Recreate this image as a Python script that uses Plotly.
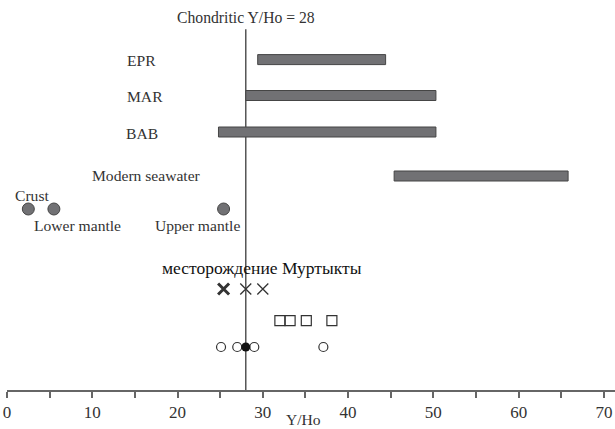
import plotly.graph_objects as go

# Y/Ho ranges of reservoirs (horizontal bars)
range_names = ["EPR", "MAR", "BAB", "Modern seawater"]
range_start = [29.4, 28.0, 24.8, 45.4]
range_end = [44.4, 50.3, 50.3, 65.8]

# Point reservoirs
point_names = ["Crust", "Lower mantle", "Upper mantle"]
point_values = [2.5, 5.5, 25.4]

# Murtykty deposit samples
cross_values = [25.4, 28.0, 30.0]
square_values = [32.0, 33.2, 35.1, 38.1]
circle_open_values = [25.1, 27.0, 29.0, 37.1]
circle_filled_values = [28.0]

chondritic = 28
x_ticks = list(range(0, 75, 5))
x_labels = [str(v) if v % 10 == 0 else "" for v in x_ticks]

# vertical row positions (top = 0, axis at 390)
bar_rows = [59.6, 95.5, 132, 176]
points_row = 209
cross_row = 289
square_row = 320.7
circle_row = 347

SERIF = "Liberation Serif"
GRAY = "#717174"
EDGE = "#454545"
TXT = "#333333"

fig = go.Figure()

fig.add_trace(go.Bar(
    orientation="h",
    y=bar_rows,
    base=range_start,
    x=[e - s for s, e in zip(range_start, range_end)],
    width=10,
    marker=dict(color=GRAY, line=dict(color=EDGE, width=1)),
    showlegend=False, hoverinfo="skip",
))

fig.add_trace(go.Scatter(
    x=point_values, y=[points_row] * len(point_values), mode="markers",
    marker=dict(size=12, color=GRAY, line=dict(color=EDGE, width=1)),
    showlegend=False,
))

fig.add_trace(go.Scatter(
    x=cross_values, y=[cross_row] * len(cross_values), mode="markers",
    marker=dict(symbol="x-thin-open", size=11, color="#333",
                line=dict(color="#333", width=[3, 1.3, 1.3])),
    showlegend=False,
))
fig.add_trace(go.Scatter(
    x=square_values, y=[square_row] * len(square_values), mode="markers",
    marker=dict(symbol="square-open", size=10, color="#333",
                line=dict(width=1.2)),
    showlegend=False,
))
fig.add_trace(go.Scatter(
    x=circle_open_values, y=[circle_row] * len(circle_open_values), mode="markers",
    marker=dict(symbol="circle-open", size=9, color="#333",
                line=dict(width=1.2)),
    showlegend=False,
))
fig.add_trace(go.Scatter(
    x=circle_filled_values, y=[circle_row], mode="markers",
    marker=dict(symbol="circle", size=9, color="#111"),
    showlegend=False,
))

# chondritic reference line
fig.add_shape(type="line", x0=chondritic, x1=chondritic, y0=29.3, y1=390,
              xref="x", yref="y", line=dict(color="#555", width=1.5), layer="below")

LBL = dict(size=15.6, color=TXT, family=SERIF)
ann = [
    dict(x=19.7, y=17.3, text="Chondritic Y/Ho = " + str(chondritic), xanchor="left",
         font=dict(size=15.7, color=TXT, family=SERIF)),
    dict(x=13.8, y=60.7, text=range_names[0], xanchor="left", font=LBL),
    dict(x=13.8, y=96.7, text=range_names[1], xanchor="left", font=LBL),
    dict(x=13.7, y=133, text=range_names[2], xanchor="left", font=LBL),
    dict(x=9.7, y=175.5, text=range_names[3], xanchor="left", font=LBL),
    dict(x=0.7, y=195, text=point_names[0], xanchor="left", font=LBL),
    dict(x=2.9, y=225, text=point_names[1], xanchor="left", font=LBL),
    dict(x=17.1, y=225, text=point_names[2], xanchor="left", font=LBL),
    dict(x=29.95, y=268, text="месторождение Муртыкты", xanchor="center",
         font=dict(size=17.5, color="#111", family=SERIF)),
]
for a in ann:
    a.update(xref="x", yref="y", showarrow=False, yanchor="middle")

# axis caption, resting on the bottom edge of the page
ann.append(dict(x=34.8, xref="x", y=0, yref="paper", yshift=-39,
                text="Y/Ho", showarrow=False, xanchor="center", yanchor="bottom",
                borderpad=0, font=LBL))

fig.update_layout(
    width=615, height=429,
    margin=dict(l=7, r=0, t=0, b=39),
    plot_bgcolor="white", paper_bgcolor="white",
    annotations=ann,
    xaxis=dict(range=[0, 71.3], tickvals=x_ticks, ticktext=x_labels,
               showgrid=False, zeroline=False, showline=True,
               linecolor="#666", linewidth=1.5, ticks="outside", ticklen=6,
               tickcolor="#666", tickwidth=1.5,
               tickfont=dict(size=17, color=TXT, family=SERIF)),
    yaxis=dict(range=[390, 0], visible=False, showgrid=False, zeroline=False),
)

fig.write_html("out.html")
